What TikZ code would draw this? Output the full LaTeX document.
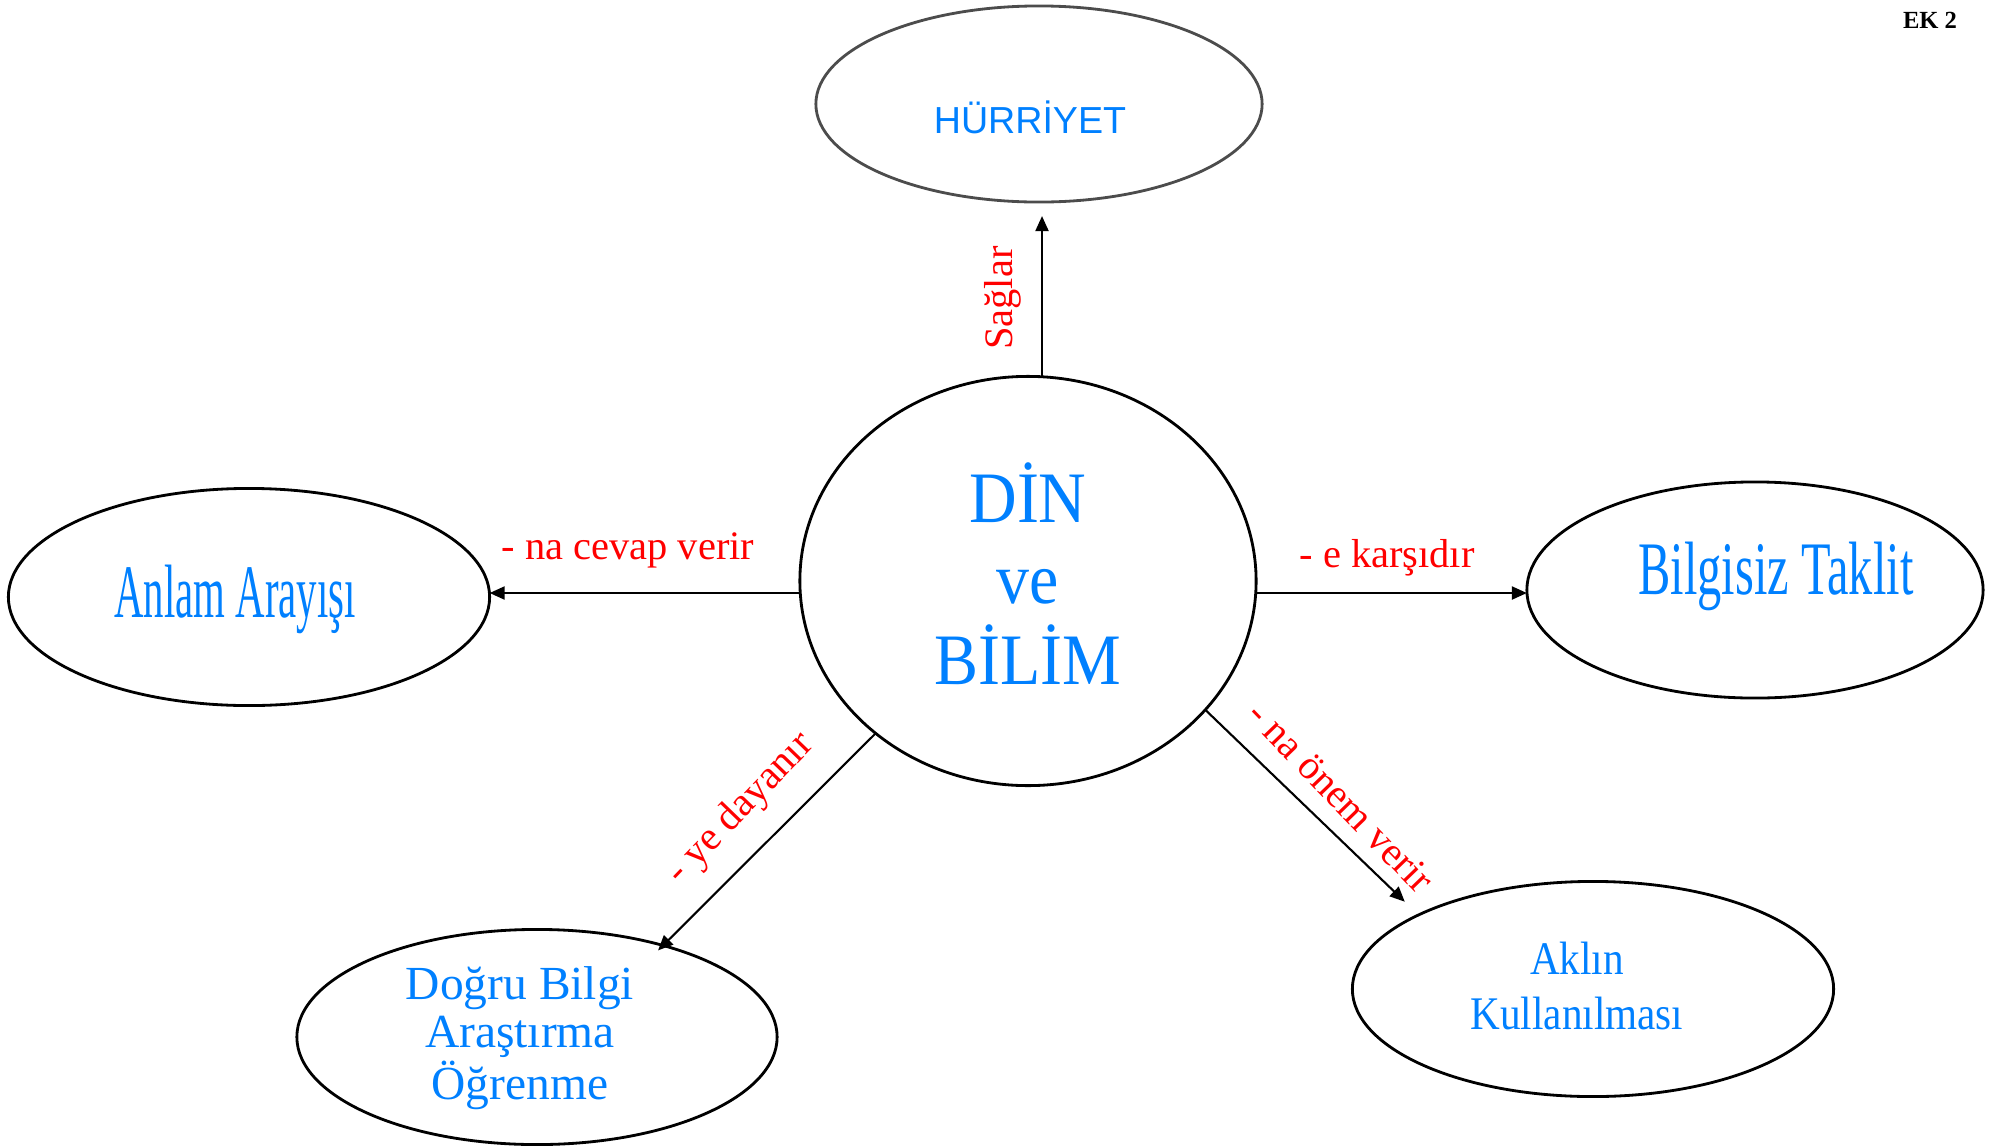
\documentclass[tikz,border=0pt]{standalone}
\usepackage{fontspec}
\setmainfont{Liberation Serif}
\newfontfamily\hursans{Liberation Sans}
\newfontfamily\dinserif[FakeStretch=0.91]{Liberation Serif}
\newfontfamily\anlamserif[FakeStretch=0.54]{Liberation Serif}
\newfontfamily\taklitserif[FakeStretch=0.64]{Liberation Serif}
\newfontfamily\akilserif[FakeStretch=0.88]{Liberation Serif}
\usetikzlibrary{shapes.geometric,arrows.meta}
\definecolor{conceptblue}{RGB}{0,128,255}
\definecolor{linkred}{RGB}{255,0,0}
\tikzset{
  bubble/.style={ellipse, draw=black, line width=0.8pt, inner sep=0pt, outer sep=0pt},
  bubbletext/.style={text=conceptblue, inner sep=0pt, align=center},
  link/.style={line width=0.6pt, -{Triangle[length=0.15cm,width=0.13cm]}},
  linktext/.style={text=linkred, inner sep=0pt, font=\fontsize{11.5}{13}\selectfont}
}

\begin{document}
\begin{tikzpicture}[x=0.01cm, y=-0.01cm]
  \useasboundingbox (0,0) rectangle (1999,1148);
  % bubbles
  \node[bubble, draw=black!70, minimum width=4.46cm, minimum height=1.96cm] (hur) at (1039,104) {};
  \node[bubble, minimum width=4.56cm, minimum height=4.09cm] (din) at (1028,581) {};
  \node[bubble, minimum width=4.81cm, minimum height=2.17cm] (anlam) at (249,597) {};
  \node[bubble, minimum width=4.56cm, minimum height=2.16cm] (taklit) at (1755,590) {};
  \node[bubble, minimum width=4.80cm, minimum height=2.15cm] (dogru) at (537,1037) {};
  \node[bubble, minimum width=4.81cm, minimum height=2.15cm] (akil) at (1593,989) {};
  % texts in the bubbles
  \node[bubbletext, anchor=base, font=\hursans\fontsize{10.7}{12}\selectfont] (hurtxt) at (1030,133) {HÜRRİYET};
  \node[bubbletext, font=\dinserif\fontsize{20.6}{23}\selectfont] (dintxt) at (1028,574) {DİN\\ve\\BİLİM};
  \node[bubbletext, anchor=base, font=\anlamserif\fontsize{21.5}{24}\selectfont] (anlamtxt) at (235,617) {Anlam Arayışı};
  \node[bubbletext, anchor=base, font=\taklitserif\fontsize{21.5}{24}\selectfont] (taklittxt) at (1776,594) {Bilgisiz Taklit};
  \node[bubbletext, font=\fontsize{13.5}{13.7}\selectfont] (dogrutxt) at (520,1038) {Doğru Bilgi\\Araştırma\\Öğrenme};
  \node[bubbletext, font=\akilserif\fontsize{13.3}{15.4}\selectfont] (akiltxt) at (1577,986) {Aklın\\Kullanılması};
  % connectors
  \coordinate (up) at ([xshift=0.14cm]din.north);
  \coordinate (lw) at ([yshift=-0.12cm]din.west);
  \coordinate (le) at ([yshift=-0.12cm]din.east);
  \draw[link, shorten >=0.14cm] (up) -- (up |- hur.south);
  \draw[link] (lw) -- (lw -| anlam.east);
  \draw[link] (le) -- (le -| taklit.west);
  \draw[link, shorten >=-0.07cm] (din.225) -- (dogru.36);
  \draw[link, shorten >=0.19cm] (din.324) -- (akil.157);
  % link labels
  \node[linktext, rotate=90] (saglar) at (1003,298) {Sağlar};
  \node[linktext, anchor=base] (cevap) at (628,559) {- na cevap verir};
  \node[linktext, anchor=base] (karsi) at (1387,567) {- e karşıdır};
  \node[linktext, rotate=46] (dayan) at (741,809) {- ye dayanır};
  \node[linktext, rotate=-46] (onem) at (1341,797) {- na önem verir};
  \node[anchor=base, inner sep=0pt, font=\bfseries\fontsize{7}{8}\selectfont] (ek) at (1930,28) {EK 2};
\end{tikzpicture}
\end{document}
